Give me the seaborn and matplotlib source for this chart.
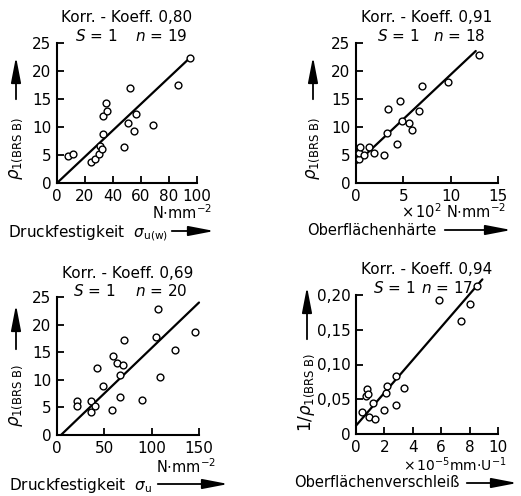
import numpy as np
import seaborn as sns
import matplotlib
matplotlib.use('Agg')
import matplotlib.pyplot as plt

# panel 1: Druckfestigkeit sigma_u(w) vs p1
druck_w_x = [8.1, 11.2, 24.2, 26.8, 30.2, 30.6, 32.3, 32.8, 33.0, 35.9, 34.7,
             48.2, 50.6, 52.0, 55.1, 56.3, 68.4, 86.5, 95.0]
druck_w_y = [4.8, 5.1, 3.8, 4.3, 5.1, 6.6, 6.0, 8.8, 12.0, 12.8, 14.2,
             6.4, 10.7, 17.0, 9.2, 12.3, 10.4, 17.5, 22.4]
druck_w_fit_x = [0, 96]
druck_w_fit_y = [0, 22.6]

# panel 2: Oberflaechenhaerte vs p1
haerte_x = [0.35, 0.35, 0.46, 0.84, 1.37, 1.86, 2.98, 3.26, 3.36, 4.28, 4.66,
            4.84, 5.64, 5.92, 6.66, 7.01, 9.67, 12.97]
haerte_y = [4.35, 5.36, 6.37, 5.06, 6.37, 5.42, 4.94, 8.99, 13.2, 7.0, 14.7,
            11.07, 10.7, 9.5, 12.9, 17.3, 18.0, 22.9]
haerte_fit_x = [0, 12.65]
haerte_fit_y = [3.45, 23.57]

# panel 3: Druckfestigkeit sigma_u vs p1
druck_x = [21.4, 21.4, 36.1, 36.1, 40.4, 41.8, 48.4, 58.2, 58.9, 63.5, 66.3,
           66.7, 69.8, 70.9, 90.2, 104.2, 106.7, 108.4, 124.6, 146.3]
druck_y = [6.1, 5.2, 6.1, 4.1, 5.3, 12.1, 8.9, 4.6, 14.4, 13.1, 6.8,
           10.8, 12.7, 17.2, 6.4, 17.8, 22.8, 10.5, 15.4, 18.6]
druck_fit_x = [4.2, 150]
druck_fit_y = [0, 24.0]

# panel 4: Oberflaechenverschleiss vs 1/p1
verschl_x = [0.42, 0.68, 0.77, 0.82, 0.91, 1.17, 1.33, 1.97, 2.08, 2.15, 2.79,
             2.83, 3.40, 5.88, 7.42, 8.01, 8.52]
verschl_y = [0.032, 0.054, 0.065, 0.057, 0.024, 0.044, 0.022, 0.034, 0.059,
             0.069, 0.042, 0.083, 0.066, 0.193, 0.163, 0.187, 0.213]
verschl_fit_x = [0, 8.9]
verschl_fit_y = [0.012, 0.2225]

sns.set_theme(style='ticks')
plt.rcParams['font.family'] = ['DejaVu Sans']
plt.rcParams['mathtext.fontset'] = 'dejavusans'
plt.rcParams['font.size'] = 10
plt.rcParams['text.color'] = 'black'
plt.rcParams['xtick.color'] = 'black'
plt.rcParams['ytick.color'] = 'black'

W, H = 521, 496
fig = plt.figure(figsize=(W / 100, H / 100), dpi=100)
fig.patch.set_facecolor('white')


def px(x, y):
    return x / W, 1 - y / H


def make_ax(left, right, top, bottom):
    return fig.add_axes([left / W, 1 - bottom / H, (right - left) / W, (bottom - top) / H])


def style(ax):
    sns.despine(ax=ax)
    for s in ['left', 'bottom']:
        ax.spines[s].set_linewidth(1.5)
        ax.spines[s].set_color('black')
    ax.tick_params(direction='in', length=5, width=1.3, labelsize=11, colors='black', pad=4)
    ax.set_facecolor('white')
    ax.set_xlabel('')
    ax.set_ylabel('')


def panel(ax, x, y, fx, fy):
    sns.lineplot(x=fx, y=fy, ax=ax, color='black', lw=1.6, clip_on=False)
    sns.scatterplot(x=x, y=y, ax=ax, s=24, marker='o', facecolor='white',
                    edgecolor='black', linewidth=1.0, clip_on=False, zorder=3)
    style(ax)


def title(ax, k, n, ys, s_x, n_x):
    ax.text(0.5, ys[0], 'Korr. - Koeff. ' + k, transform=ax.transAxes,
            ha='center', va='center', fontsize=11)
    ax.text(s_x, ys[1], r'$S$ = 1', transform=ax.transAxes, ha='left', va='center', fontsize=11)
    ax.text(n_x, ys[1], r'$n$ = ' + n, transform=ax.transAxes, ha='left', va='center', fontsize=11)


def arrow(x0, y0, x1, y1):
    fig.add_artist(matplotlib.patches.FancyArrowPatch(
        px(x0, y0), px(x1, y1), transform=fig.transFigure,
        arrowstyle='-|>,head_length=1.3,head_width=0.25', mutation_scale=12,
        lw=1.3, color='black'))


ylab = r'$\rho_{1(\mathrm{BRS\ B})}$'

# panel 1
ax1 = make_ax(57, 197, 43, 183)
panel(ax1, druck_w_x, druck_w_y, druck_w_fit_x, druck_w_fit_y)
ax1.set_xlim(0, 100)
ax1.set_ylim(0, 25)
ax1.set_xticks(np.arange(0, 101, 20))
ax1.set_yticks(np.arange(0, 26, 5))
title(ax1, '0,80', '19', (1.18, 1.05), 0.13, 0.56)
fig.text(*px(16, 148), ylab, rotation=90, ha='center', va='center', fontsize=12)
arrow(16, 102, 16, 54)
fig.text(*px(212, 219), r'N$\cdot$mm$^{-2}$', ha='right', va='baseline', fontsize=10.5)
fig.text(*px(8, 237), r'Druckfestigkeit  $\sigma_{\mathrm{u(w)}}$', ha='left', va='baseline', fontsize=11)
arrow(169, 231, 217, 231)

# panel 2
ax2 = make_ax(356, 498, 43, 183)
panel(ax2, haerte_x, haerte_y, haerte_fit_x, haerte_fit_y)
ax2.set_xlim(0, 15)
ax2.set_ylim(0, 25)
ax2.set_xticks([0, 5, 10, 15])
ax2.set_yticks(np.arange(0, 26, 5))
title(ax2, '0,91', '18', (1.18, 1.05), 0.15, 0.54)
fig.text(*px(313, 148), ylab, rotation=90, ha='center', va='center', fontsize=12)
arrow(313, 102, 313, 54)
fig.text(*px(506, 218), r'$\times\,10^2$ N$\cdot$mm$^{-2}$', ha='right', va='baseline', fontsize=10.5)
fig.text(*px(307, 235), 'Oberflächenhärte', ha='left', va='baseline', fontsize=10.5)
arrow(442, 230, 514, 230)

# panel 3
ax3 = make_ax(57, 199, 297, 435)
panel(ax3, druck_x, druck_y, druck_fit_x, druck_fit_y)
ax3.set_xlim(0, 150)
ax3.set_ylim(0, 25)
ax3.set_xticks([0, 50, 100, 150])
ax3.set_yticks(np.arange(0, 26, 5))
title(ax3, '0,69', '20', (1.17, 1.04), 0.11, 0.55)
fig.text(*px(16, 395), ylab, rotation=90, ha='center', va='center', fontsize=12)
arrow(16, 352, 16, 302)
fig.text(*px(216, 473), r'N$\cdot$mm$^{-2}$', ha='right', va='baseline', fontsize=10.5)
fig.text(*px(9, 490), r'Druckfestigkeit  $\sigma_{\mathrm{u}}$', ha='left', va='baseline', fontsize=11)
arrow(155, 484, 231, 484)

# panel 4
ax4 = make_ax(356, 498, 295, 434)
panel(ax4, verschl_x, verschl_y, verschl_fit_x, verschl_fit_y)
ax4.set_xlim(0, 10)
ax4.set_ylim(0, 0.20)
ax4.set_xticks(np.arange(0, 11, 2))
ax4.set_yticks([0, 0.05, 0.10, 0.15, 0.20])
ax4.set_yticklabels(['0', '0,05', '0,10', '0,15', '0,20'])
title(ax4, '0,94', '17', (1.18, 1.05), 0.12, 0.46)
fig.text(*px(307, 392), r'$1/\rho_{1(\mathrm{BRS\ B})}$', rotation=90, ha='center', va='center', fontsize=12)
arrow(307, 342, 307, 284)
fig.text(*px(507, 471), r'$\times\,10^{-5}$mm$\cdot$U$^{-1}$', ha='right', va='baseline', fontsize=10)
fig.text(*px(294, 487), 'Oberflächenverschleiß', ha='left', va='baseline', fontsize=10.5)
arrow(464, 483, 520, 483)

fig.savefig('out.png', dpi=100, facecolor='white')
